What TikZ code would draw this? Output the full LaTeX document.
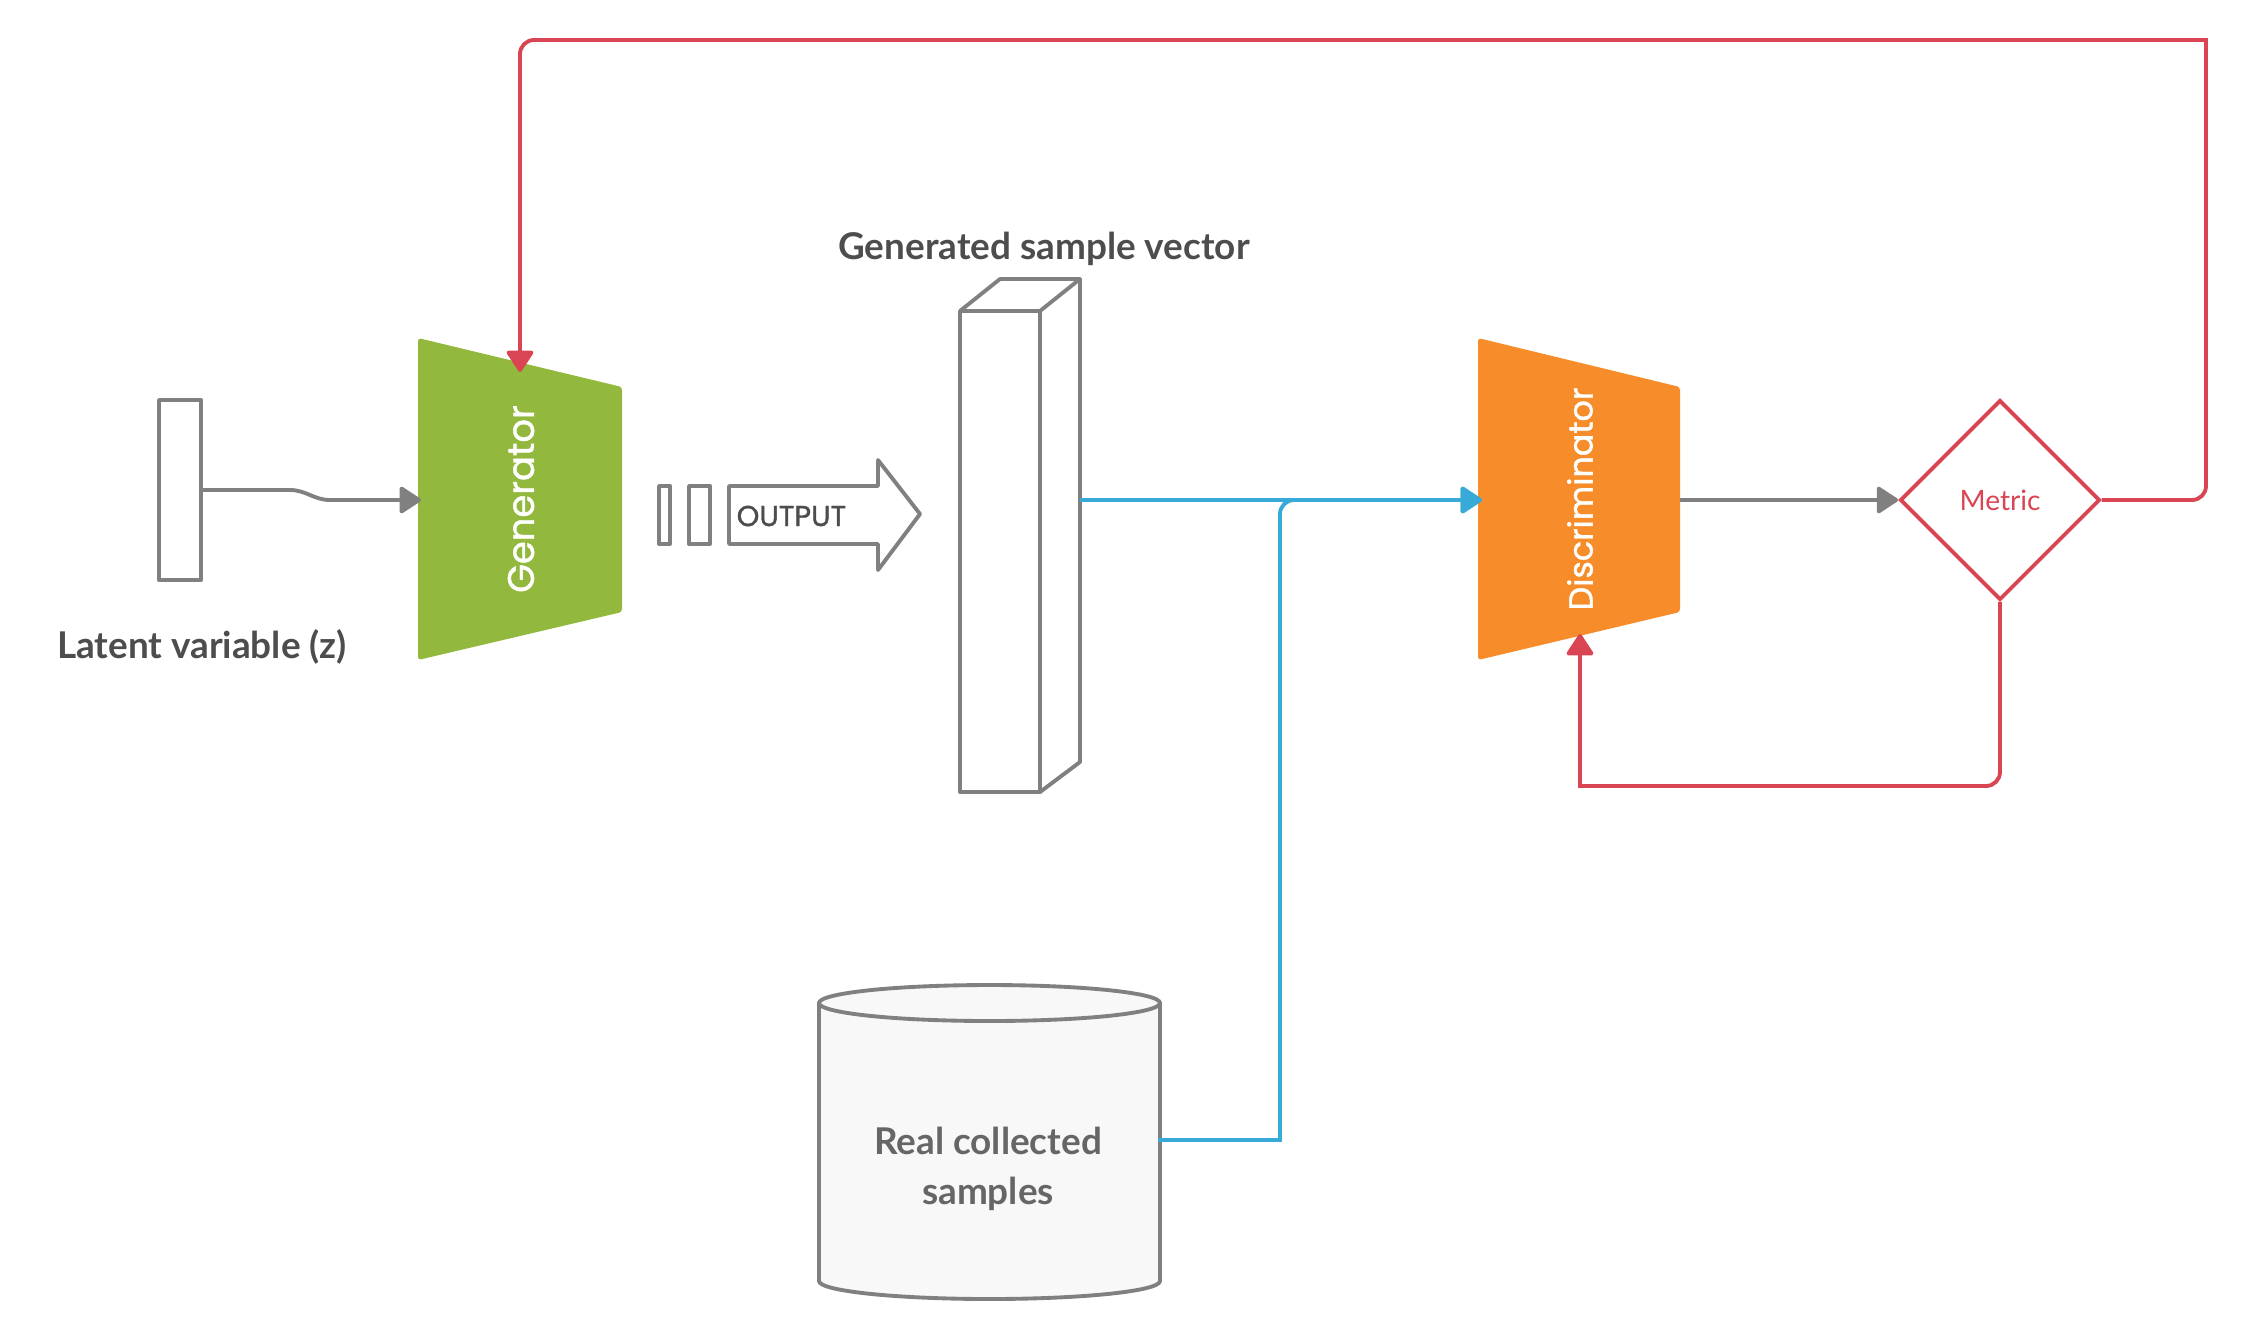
\documentclass[tikz,border=0pt]{standalone}
\usepackage{fontspec}
\setmainfont{Lato}
\newfontfamily\popfont{Poppins}[FakeBold=1.2]
\usetikzlibrary{arrows.meta,shapes.geometric}
\definecolor{gline}{RGB}{128,128,128}
\definecolor{txtc}{RGB}{77,77,77}
\definecolor{cyltxt}{RGB}{102,102,102}
\definecolor{cylfill}{RGB}{248,248,248}
\definecolor{gengreen}{RGB}{146,184,62}
\definecolor{discorange}{RGB}{246,141,42}
\definecolor{lred}{RGB}{218,69,83}
\definecolor{lblue}{RGB}{56,170,216}
\begin{document}
\begin{tikzpicture}[x=0.1mm,y=-0.1mm,
  conn/.style={line width=1.1pt},
  tipg/.style={-{Triangle[length=2.3mm,width=2.9mm,round]}},
  lbl/.style={font=\bfseries\fontsize{10.5}{14}\selectfont, text=txtc, inner sep=0},
  nettxt/.style={rotate=90, text=white, inner sep=0},
  outline/.style={draw=gline, conn, line join=round}
]
\useasboundingbox (0,0) rectangle (2246,1340);

% latent variable
\node[outline, minimum width=4.2mm, minimum height=18mm, inner sep=0] (lat) at (180,490) {};
\node[lbl] (latlbl) at (202,647) {Latent variable (z)};

% generator
\fill[gengreen, rounded corners=0.3mm] (418,338) -- (622,387) -- (622,612) -- (418,660) -- cycle;
\node[nettxt, font=\popfont\fontsize{10.5}{12}\selectfont] (gen) at (521,499) {Generator};
\coordinate (genIn) at (421,500);
\coordinate (genTop) at (520,372);

\draw[gline, conn, tipg] (lat.east) -- (290,490) to[out=0,in=180] (330,500) -- (genIn);

% output blocks
\node[outline, minimum width=1.1mm, minimum height=5.8mm, inner sep=0] (s1) at (664.5,515) {};
\node[outline, minimum width=2.1mm, minimum height=5.8mm, inner sep=0] (s2) at (699.5,515) {};
\draw[outline] (729,486) -- (878,486) -- (878,460) -- (920,514) -- (878,570) -- (878,544) -- (729,544) -- cycle;
\node[anchor=west, font=\popfont\fontsize{8.2}{9}\selectfont, text=txtc, inner sep=0] (outtxt) at (736,516) {OUTPUT};

% generated sample vector
\draw[outline] (960,311) rectangle (1040,792);
\draw[outline] (960,311) -- (1000,279) -- (1080,279) -- (1040,311);
\draw[outline] (1080,279) -- (1080,762) -- (1040,792);
\coordinate (vecR) at (1080,500);
\node[lbl] (veclbl) at (1044,249) {Generated sample vector};

% real samples cylinder
\filldraw[fill=cylfill, draw=gline, conn] (819,1003) -- (819,1281) arc[start angle=180, end angle=0, x radius=170.5, y radius=18] -- (1160,1003);
\filldraw[fill=cylfill, draw=gline, conn] (989.5,1003) ellipse [x radius=170.5, y radius=18];
\node[align=center, font=\bfseries\fontsize{10.5}{14.4}\selectfont, text=cyltxt] (db) at (988,1169) {Real collected\\samples};
\coordinate (dbR) at (1160,1140);

% discriminator
\fill[discorange, rounded corners=0.3mm] (1478,338) -- (1680,387) -- (1680,612) -- (1478,660) -- cycle;
\node[nettxt, font=\popfont\fontsize{9.5}{12}\selectfont] (disc) at (1580,499) {Discriminator};
\coordinate (discIn) at (1482,500);
\coordinate (discOut) at (1680,500);
\coordinate (discBot) at (1580,634);

% metric
\node[diamond, aspect=1, draw=lred, conn, minimum width=20mm, minimum height=20mm, inner sep=0, text=lred, font=\fontsize{8}{9}\selectfont] (met) at (2000,500) {Metric};

% connectors
\draw[lblue, conn, tipg] (vecR) -- (discIn);
\draw[lblue, conn, line cap=rect] (dbR) -- (1280,1140);
\draw[lblue, conn, tipg, rounded corners=1.4mm] (1280,1140) -- (1280,500) -- (discIn);
\draw[gline, conn, tipg] (discOut) -- (met.west);
\draw[lred, conn, tipg] (met.east) [rounded corners=1.4mm] -- (2206,500) [sharp corners] -- (2206,40) [rounded corners=1.4mm] -- (520,40) -- (genTop);
\draw[lred, conn, tipg] (met.south) [rounded corners=1.4mm] -- (2000,786) [sharp corners] -- (1580,786) -- (discBot);
\end{tikzpicture}
\end{document}
